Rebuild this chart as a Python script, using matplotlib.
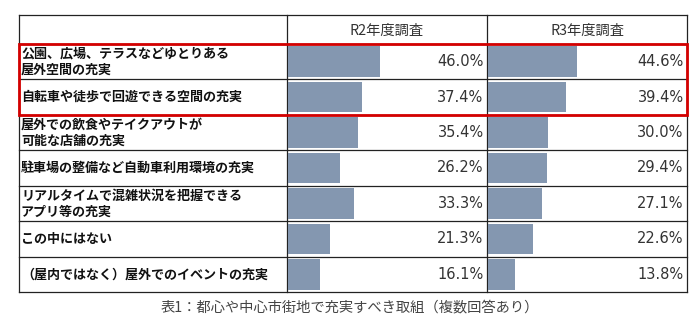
import matplotlib.pyplot as plt
from matplotlib.patches import Rectangle

plt.rcParams['font.family'] = ['Noto Sans CJK JP', 'DejaVu Sans']

# data
items = [
    "公園、広場、テラスなどゆとりある\n屋外空間の充実",
    "自転車や徒歩で回遊できる空間の充実",
    "屋外での飲食やテイクアウトが\n可能な店舗の充実",
    "駐車場の整備など自動車利用環境の充実",
    "リアルタイムで混雑状況を把握できる\nアプリ等の充実",
    "この中にはない",
    "（屋内ではなく）屋外でのイベントの充実",
]
surveys = ["R2年度調査", "R3年度調査"]
r2_values = [46.0, 37.4, 35.4, 26.2, 33.3, 21.3, 16.1]
r3_values = [44.6, 39.4, 30.0, 29.4, 27.1, 22.6, 13.8]
caption = "表1：都心や中心市街地で充実すべき取組（複数回答あり）"

W, H = 699, 327
fig = plt.figure(figsize=(W / 100, H / 100), dpi=100)

# table geometry in pixels
left, col1, col2, right = 19, 287, 487, 687
top, head, bottom = 15, 44, 292
n = len(items)
rh = (bottom - head) / n

bg = fig.add_axes([0, 0, 1, 1])
bg.set_xlim(0, W)
bg.set_ylim(H, 0)
bg.axis('off')

bar_color = '#8497B0'
line_kw = dict(color='#222222', lw=0.9, zorder=3)

# bar columns, each on its own 0-100% axes
for vals, x0, x1, name in [(r2_values, col1, col2, surveys[0]), (r3_values, col2, right, surveys[1])]:
    ax = fig.add_axes([(x0 + 1) / W, (H - bottom) / H, (x1 - x0 - 1) / W, (bottom - head) / H])
    ax.set_xlim(0, 100)
    ax.set_ylim(n - 0.5, -0.5)
    ax.axis('off')
    ax.barh(range(n), vals, height=0.86, color=bar_color)
    for i, v in enumerate(vals):
        ax.text(98.3, i, f"{v:.1f}%", ha='right', va='center', fontsize=10.5,
                family='DejaVu Sans', color='#333333')
    bg.text((x0 + x1) / 2, (top + head) / 2 + 1, name, ha='center', va='center',
            fontsize=10.3, color='#333333')

# row labels
for i, label in enumerate(items):
    cy = head + rh * (i + 0.5)
    bg.text(left + 2, cy, label, ha='left', va='center', fontsize=9.4,
            weight='bold', linespacing=1.15, color='#111111')

# grid lines
for i in range(n + 1):
    y = head + rh * i
    bg.plot([left, right], [y, y], **line_kw)
bg.plot([left, right], [top, top], **line_kw)
for x in [left, col1, col2, right]:
    bg.plot([x, x], [top, bottom], **line_kw)

# highlight box around first two rows
bg.add_patch(Rectangle((left, head), right - left, 2 * rh, fill=False,
                       edgecolor='#D40000', lw=2, zorder=5))

bg.text(W / 2, 307, caption, ha='center', va='center', fontsize=10.3, color='#444444')

fig.savefig('out.png', dpi=100)
